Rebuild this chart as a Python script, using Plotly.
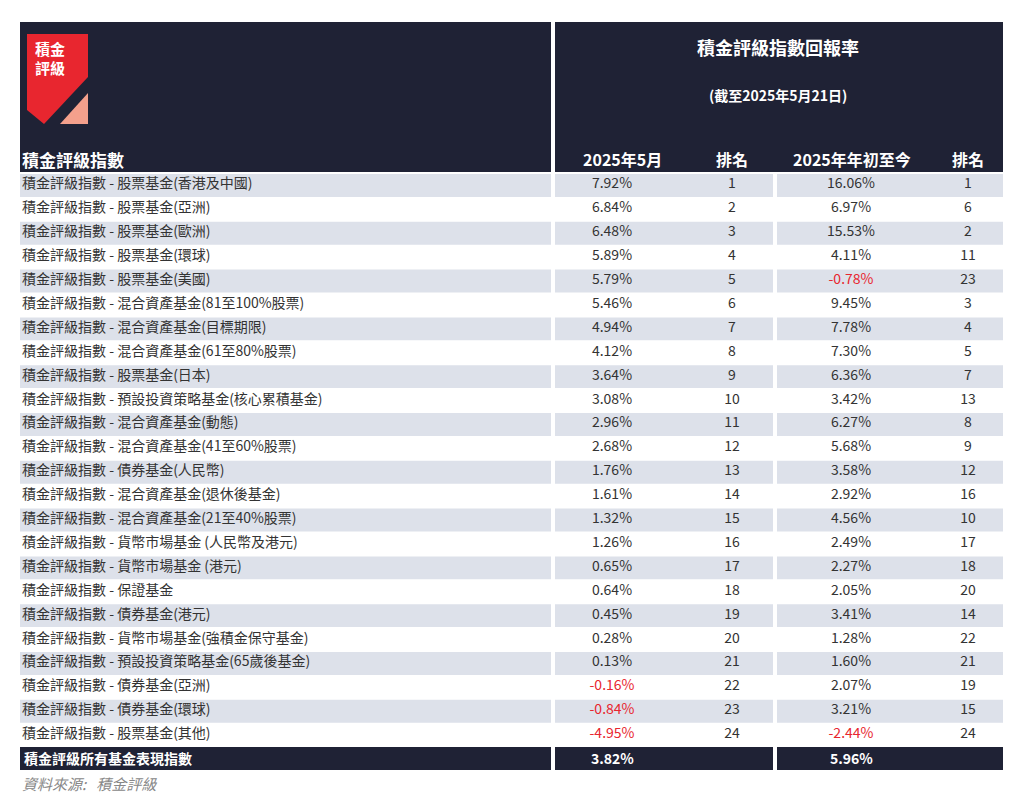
import plotly.graph_objects as go

# data
names = ["股票基金(香港及中國)", "股票基金(亞洲)", "股票基金(歐洲)", "股票基金(環球)", "股票基金(美國)",
         "混合資產基金(81至100%股票)", "混合資產基金(目標期限)", "混合資產基金(61至80%股票)", "股票基金(日本)",
         "預設投資策略基金(核心累積基金)", "混合資產基金(動態)", "混合資產基金(41至60%股票)", "債券基金(人民幣)",
         "混合資產基金(退休後基金)", "混合資產基金(21至40%股票)", "貨幣市場基金 (人民幣及港元)", "貨幣市場基金 (港元)",
         "保證基金", "債券基金(港元)", "貨幣市場基金(強積金保守基金)", "預設投資策略基金(65歲後基金)",
         "債券基金(亞洲)", "債券基金(環球)", "股票基金(其他)"]
may = [7.92, 6.84, 6.48, 5.89, 5.79, 5.46, 4.94, 4.12, 3.64, 3.08, 2.96, 2.68, 1.76, 1.61, 1.32, 1.26,
       0.65, 0.64, 0.45, 0.28, 0.13, -0.16, -0.84, -4.95]
may_rank = list(range(1, 25))
ytd = [16.06, 6.97, 15.53, 4.11, -0.78, 9.45, 7.78, 7.30, 6.36, 3.42, 6.27, 5.68, 3.58, 2.92, 4.56, 2.49,
       2.27, 2.05, 3.41, 1.28, 1.60, 2.07, 3.21, -2.44]
ytd_rank = [1, 6, 2, 11, 23, 3, 4, 5, 7, 13, 8, 9, 12, 16, 10, 17, 18, 20, 14, 22, 21, 19, 15, 24]
total_may, total_ytd = 3.82, 5.96

DARK = "#1f2235"
GREY = "#dde1ea"
TXT = "#333333"
RED = "#e8262f"
FONT = "Noto Sans CJK TC"

top, rh = 173, 23.9
ys = [top + rh * (i + 0.5) for i in range(len(names))]
ytot = top + rh * len(names) + 11.5

shapes = []
def rect(x0, x1, y0, y1, c):
    shapes.append(dict(type="rect", x0=x0, x1=x1, y0=y0, y1=y1, fillcolor=c, line_width=0, layer="below"))

rect(20, 551, 22, 172, DARK)
rect(555, 1003, 22, 172, DARK)
for i in range(len(names)):
    if i % 2 == 0:
        y0 = top + rh * i + 1
        rect(20, 551, y0, y0 + rh - 1, GREY)
        rect(555, 773, y0, y0 + rh - 1, GREY)
        rect(777, 1003, y0, y0 + rh - 1, GREY)
rect(20, 551, ytot - 11, ytot + 12, DARK)
rect(555, 773, ytot - 11, ytot + 12, DARK)
rect(777, 1003, ytot - 11, ytot + 12, DARK)
# logo
shapes.append(dict(type="path", path="M27,34 L88,34 L88,77 L44,124 L27,110 Z", fillcolor=RED, line_width=0))
shapes.append(dict(type="path", path="M60,124 L88,124 L88,93 Z", fillcolor="#f4a08c", line_width=0))

fig = go.Figure()
def col(x, y, t, colors, pos, size=14):
    fig.add_trace(go.Scatter(x=[x] * len(t), y=y, text=t, mode="text", textposition=pos,
                             textfont=dict(family=FONT, size=size, color=colors), hoverinfo="skip"))

col(22, ys, ["積金評級指數 - " + n for n in names], TXT, "middle right")
col(612, ys, [f"{v:.2f}%" for v in may], [RED if v < 0 else TXT for v in may], "middle center")
col(732, ys, [str(v) for v in may_rank], TXT, "middle center")
col(851, ys, [f"{v:.2f}%" for v in ytd], [RED if v < 0 else TXT for v in ytd], "middle center")
col(968, ys, [str(v) for v in ytd_rank], TXT, "middle center")

ann = []
def a(x, y, t, size, anchor="center", color="white", bold=True, italic=False):
    s = f"<b>{t}</b>" if bold else t
    if italic:
        s = f"<i>{s}</i>"
    ann.append(dict(x=x, y=y, text=s, showarrow=False, xanchor=anchor, yanchor="middle",
                    font=dict(family=FONT, size=size, color=color)))

a(22, ytot, "積金評級所有基金表現指數", 14, "left")
a(612, ytot, f"{total_may:.2f}%", 14)
a(851, ytot, f"{total_ytd:.2f}%", 14)
a(778, 47, "積金評級指數回報率", 18)
a(778, 95, "(截至2025年5月21日)", 14)
a(20, 159, "積金評級指數", 17, "left")
a(622, 159, "2025年5月", 16)
a(732, 159, "排名", 16)
a(852, 159, "2025年年初至今", 16)
a(968, 159, "排名", 16)
a(33, 48, "積金", 15, "left")
a(33, 67, "評級", 15, "left")
a(20, 783, "資料來源:&nbsp;&nbsp;&nbsp;積金評級", 15, "left", "#888888", bold=False, italic=True)

# page has 8px body margin; map axis units straight to page pixels
fig.update_layout(width=1008, height=785, margin=dict(l=0, r=0, t=0, b=0),
                  paper_bgcolor="white", plot_bgcolor="white", showlegend=False,
                  shapes=shapes, annotations=ann,
                  xaxis=dict(range=[8, 1016], visible=False, fixedrange=True),
                  yaxis=dict(range=[793, 8], visible=False, fixedrange=True))
fig.write_html("out.html")
